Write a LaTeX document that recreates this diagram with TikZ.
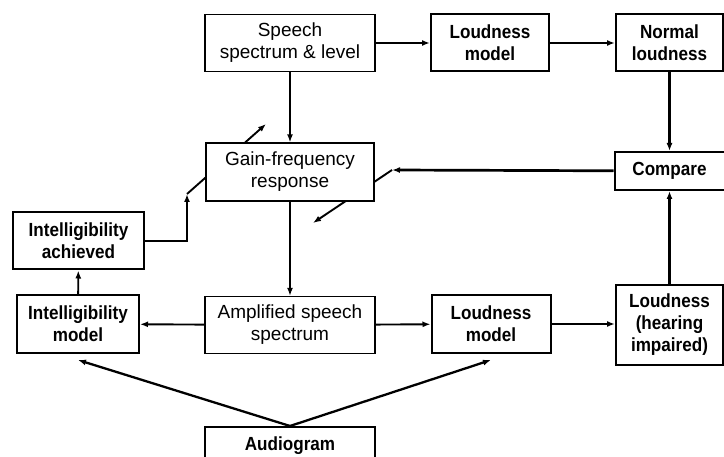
\documentclass[tikz,border=0pt]{standalone}
\usepackage{fontspec}
\setmainfont{Liberation Sans}
\newfontfamily\strettofont{Liberation Sans}[FakeStretch=0.9]
\usetikzlibrary{arrows.meta}

\tikzset{
  blocco/.style={draw, line width=1.3pt, fill=white, align=center, inner sep=0pt,
    font=\fontsize{19}{22}\selectfont},
  bloccob/.style={blocco, line width=2pt, font=\strettofont\bfseries\fontsize{19}{22}\selectfont},
  freccia/.style={-{Latex[length=8pt,width=6pt]}, line width=1.9pt},
  frecciag/.style={freccia, line width=2.7pt}
}

\begin{document}
\begin{tikzpicture}[x=1pt,y=-1pt]
    \useasboundingbox (0,0) rectangle (724,457);

    % Leve di regolazione (sotto il blocco del guadagno)
    \coordinate (leva1a) at (187,194);
    \coordinate (leva1b) at (266,124);
    \coordinate (leva2a) at (392,170);
    \coordinate (leva2b) at (313,223);
    \draw[freccia] (leva1a) -- (leva1b);
    \draw[freccia] (leva2a) -- (leva2b);

    % Riga in alto
    \node[blocco, line width=1.8pt, minimum width=170pt, minimum height=57pt] (spettro) at (290,43) {Speech\\spectrum \& level};
    \node[bloccob, minimum width=118pt, minimum height=57pt] (loud1) at (490,43) {Loudness\\model};
    \node[bloccob, minimum width=107pt, minimum height=57pt] (normale) at (669.5,43) {Normal\\loudness};

    % Riga centrale
    \node[blocco, minimum width=168pt, minimum height=58pt] (guadagno) at (290,172) {Gain-frequency\\response};
    \node[bloccob, minimum width=110pt, minimum height=38pt] (confronto) at (669.5,171) {Compare};
    \node[bloccob, minimum width=131pt, minimum height=57pt] (intach) at (78.5,241) {Intelligibility\\achieved};

    % Riga in basso
    \node[bloccob, minimum width=122pt, minimum height=58pt] (intmod) at (78,324) {Intelligibility\\model};
    \node[blocco, minimum width=170pt, minimum height=57pt] (amplif) at (290,325) {Amplified speech\\spectrum};
    \node[bloccob, minimum width=119pt, minimum height=58pt] (loud2) at (491,324) {Loudness\\model};
    \node[bloccob, minimum width=107pt, minimum height=80pt] (loudhi) at (669.5,325) {Loudness\\(hearing\\impaired)};
    \node[bloccob, minimum width=170pt, minimum height=38pt] (audiogramma) at (290,446) {Audiogram};

    % Frecce
    \draw[freccia] (spettro) -- (loud1);
    \draw[freccia] (loud1) -- (normale);
    \draw[freccia] (spettro) -- (guadagno);
    \draw[freccia] (guadagno) -- (amplif);
    \draw[frecciag] (normale) -- (confronto);
    \draw[frecciag] (loudhi) -- (confronto);
    \draw[frecciag] (confronto) -- (leva2a);
    \draw[freccia] (amplif) -- (intmod);
    \draw[freccia] (amplif) -- (loud2);
    \draw[freccia] (loud2.east) -- (loud2.east -| loudhi.west);
    \draw[freccia] (intmod) -- (intach);
    \draw[freccia] (intach.east) -| (leva1a);
    \draw[freccia, line width=2.3pt] (audiogramma.north) -- ([yshift=-6pt]intmod.south);
    \draw[freccia, line width=2.3pt] (audiogramma.north) -- ([yshift=-6pt]loud2.south);

\end{tikzpicture}
\end{document}
